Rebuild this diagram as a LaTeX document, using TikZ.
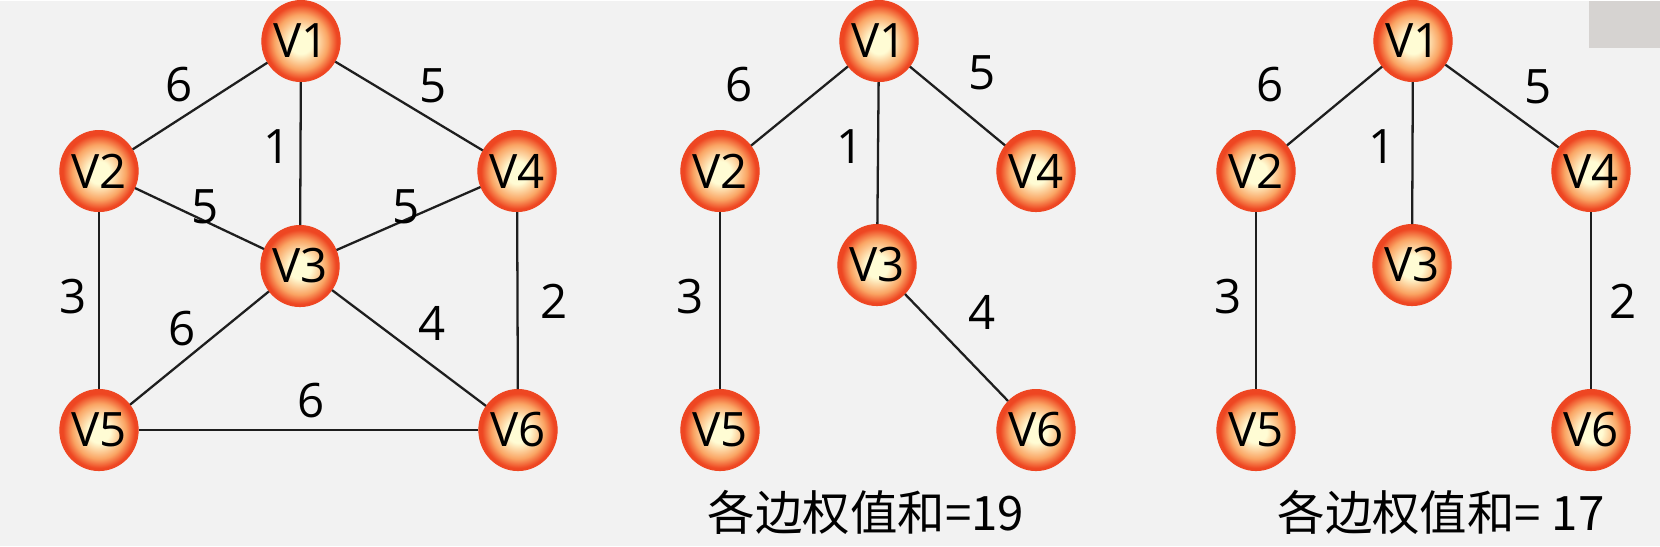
\documentclass[tikz,border=0pt]{standalone}
\usepackage{fontspec}
\setmainfont{Open Sans}
\newfontfamily\cjk{Noto Sans CJK SC}
\usetikzlibrary{shapes.geometric}

\definecolor{bgcol}{RGB}{242,242,242}
\definecolor{ballcore}{RGB}{255,252,212}
\definecolor{ballmid}{RGB}{250,165,100}
\definecolor{ballrim}{RGB}{238,70,34}
\definecolor{camgray}{RGB}{214,211,209}
\definecolor{linecol}{RGB}{30,30,30}

\pgfdeclareradialshading{vball}{\pgfpoint{0bp}{-1bp}}{%
  color(0bp)=(ballcore); color(7bp)=(ballcore); color(17bp)=(ballmid);
  color(23bp)=(ballrim); color(50bp)=(ballrim)}

\begin{document}
\begin{tikzpicture}[
    x=0.02cm, y=-0.02cm,
    vtx/.style={ellipse, shading=vball, draw=ballrim, line width=0.6pt,
                minimum width=1.56cm, minimum height=1.62cm, inner sep=0pt,
                font=\fontsize{27}{27}\selectfont},
    wlbl/.style={inner sep=0pt, font=\fontsize{27}{27}\selectfont},
    sumlbl/.style={inner sep=0pt, font=\cjk\fontsize{27}{27}\selectfont},
    edge/.style={draw=linecol, line width=1.3pt}
]
    % background and the grey box top right
    \fill[bgcol] (0,0) rectangle (1660,545);
    \fill[camgray] (1589,0) rectangle (1660,47);

    % full graph
    \node[vtx] (g1) at (301,40)  {V1};
    \node[vtx] (g2) at (99,170)  {V2};
    \node[vtx] (g3) at (300,265) {V3};
    \node[vtx] (g4) at (517,170) {V4};
    \node[vtx] (g5) at (99,429)  {V5};
    \node[vtx] (g6) at (518,429) {V6};

    \draw[edge] (g1) -- (g2);
    \draw[edge] (g1) -- (g3);
    \draw[edge] (g1) -- (g4);
    \draw[edge] (g2) -- (g3);
    \draw[edge] (g3) -- (g4);
    \draw[edge] (g2) -- (g5);
    \draw[edge] (g4) -- (g6);
    \draw[edge] (g3) -- (g5);
    \draw[edge] (g3) -- (g6);
    \draw[edge] (g5) -- (g6);

    \node[wlbl] (wg12) at (179,84)  {6};
    \node[wlbl] (wg14) at (433,85)  {5};
    \node[wlbl] (wg13) at (277,146) {1};
    \node[wlbl] (wg23) at (205,206) {5};
    \node[wlbl] (wg34) at (406,206) {5};
    \node[wlbl] (wg25) at (73,296)  {3};
    \node[wlbl] (wg46) at (554,300) {2};
    \node[wlbl] (wg35) at (182,328) {6};
    \node[wlbl] (wg36) at (432,322) {4};
    \node[wlbl] (wg56) at (311,400) {6};

    % first spanning tree
    \node[vtx] (s1) at (879,40)  {V1};
    \node[vtx] (s2) at (720,170) {V2};
    \node[vtx] (s3) at (877,264) {V3};
    \node[vtx] (s4) at (1036,170) {V4};
    \node[vtx] (s5) at (720,429) {V5};
    \node[vtx] (s6) at (1036,429) {V6};

    \draw[edge] (s1) -- (s2);
    \draw[edge] (s1) -- (s3);
    \draw[edge] (s1) -- (s4);
    \draw[edge] (s2) -- (s5);
    \draw[edge] (s3) -- (s6);

    \node[wlbl] (ws12) at (739,84)  {6};
    \node[wlbl] (ws14) at (982,72)  {5};
    \node[wlbl] (ws13) at (850,146) {1};
    \node[wlbl] (ws25) at (690,296) {3};
    \node[wlbl] (ws36) at (982,311) {4};

    \node[sumlbl] (sum1) at (866,511) {各边权值和=19};

    % second spanning tree
    \node[vtx] (t1) at (1413,40)  {V1};
    \node[vtx] (t2) at (1256,170) {V2};
    \node[vtx] (t3) at (1412,264) {V3};
    \node[vtx] (t4) at (1591,170) {V4};
    \node[vtx] (t5) at (1256,429) {V5};
    \node[vtx] (t6) at (1591,429) {V6};

    \draw[edge] (t1) -- (t2);
    \draw[edge] (t1) -- (t3);
    \draw[edge] (t1) -- (t4);
    \draw[edge] (t2) -- (t5);
    \draw[edge] (t4) -- (t6);

    \node[wlbl] (wt12) at (1270,84)  {6};
    \node[wlbl] (wt14) at (1538,86)  {5};
    \node[wlbl] (wt13) at (1382,146) {1};
    \node[wlbl] (wt25) at (1228,296) {3};
    \node[wlbl] (wt46) at (1623,300) {2};

    \node[sumlbl] (sum2) at (1441,511) {各边权值和= 17};
\end{tikzpicture}
\end{document}
